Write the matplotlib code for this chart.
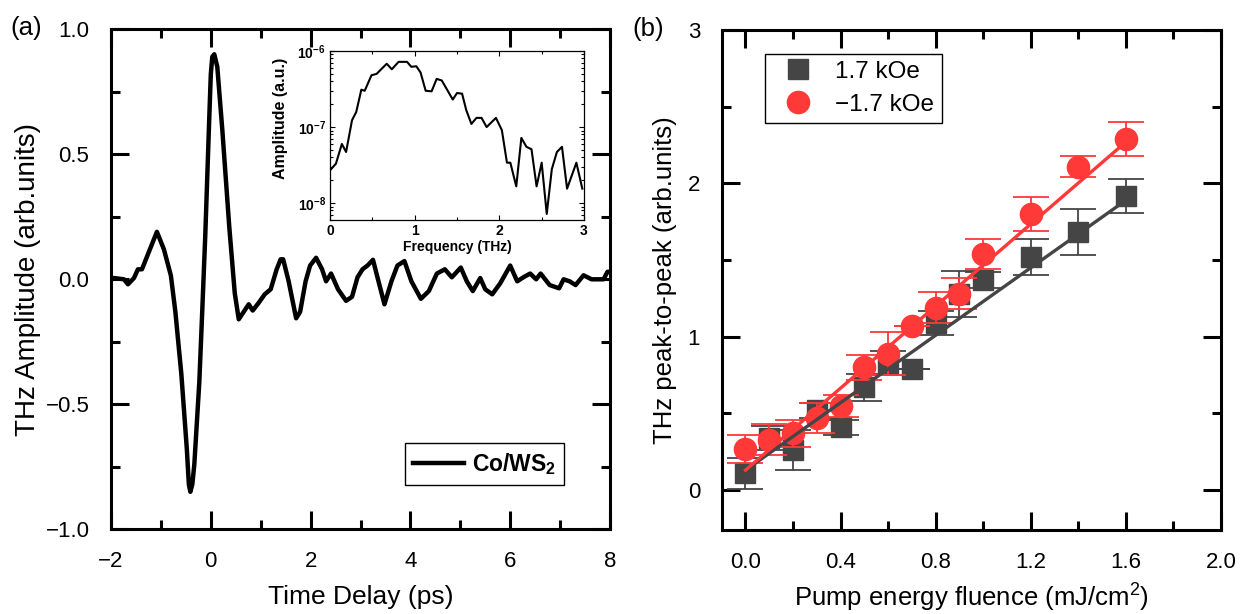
import numpy as np
import matplotlib
matplotlib.use("Agg")
import matplotlib.pyplot as plt
from matplotlib.ticker import MultipleLocator, LogLocator, FuncFormatter, NullFormatter

plt.rcParams['font.family'] = ['Liberation Sans', 'DejaVu Sans']
plt.rcParams['mathtext.fontset'] = 'custom'
plt.rcParams['mathtext.rm'] = 'Liberation Sans'
plt.rcParams['mathtext.bf'] = 'Liberation Sans:bold'
plt.rcParams['mathtext.default'] = 'regular'

# (a) THz waveform
delay_ps = [-2.0, -1.94, -1.74, -1.66, -1.54, -1.46, -1.38, -1.26, -1.08, -0.94, -0.80,
            -0.71, -0.59, -0.48, -0.44, -0.41, -0.37, -0.33, -0.23, -0.17, -0.11, -0.03,
            0.0, 0.03, 0.07, 0.13, 0.23,
            0.37, 0.48, 0.56, 0.66, 0.76, 0.84, 0.96, 1.08, 1.20, 1.32, 1.40, 1.45,
            1.56, 1.71, 1.79, 1.90, 1.99, 2.11, 2.23, 2.31, 2.41, 2.55, 2.71, 2.83,
            2.94, 3.04, 3.14, 3.25, 3.34, 3.48, 3.62, 3.74, 3.88, 4.02, 4.21, 4.37,
            4.53, 4.69, 4.83, 5.01, 5.13, 5.25, 5.40, 5.50, 5.64, 5.80, 6.00, 6.14,
            6.28, 6.40, 6.52, 6.61, 6.79, 6.98, 7.07, 7.19, 7.31, 7.47, 7.63, 7.87,
            7.95, 8.0]
thz_amp = [0.005, 0.005, 0.0, -0.02, 0.005, 0.04, 0.04, 0.10, 0.19, 0.12, 0.015,
           -0.13, -0.38, -0.68, -0.82, -0.85, -0.82, -0.74, -0.41, -0.12, 0.18, 0.65,
           0.82, 0.89, 0.90, 0.85, 0.60,
           0.21, -0.055, -0.16, -0.13, -0.10, -0.125, -0.094, -0.06, -0.04, 0.04, 0.08, 0.08,
           -0.008, -0.156, -0.13, -0.008, 0.055, 0.086, 0.04, -0.008, 0.023, -0.04, -0.086, -0.07,
           0.008, 0.04, 0.055, 0.078, 0.008, -0.10, -0.008, 0.055, 0.073, -0.008, -0.078, -0.047,
           0.023, 0.04, 0.008, 0.047, -0.008, -0.047, 0.005, -0.04, -0.06, -0.016, 0.055, -0.008,
           0.01, 0.023, 0.0, 0.023, -0.023, -0.036, 0.0, -0.008, -0.023, 0.016, 0.0, 0.0,
           0.03, 0.03]

# inset spectrum
freq_thz = [0.0, 0.07, 0.14, 0.19, 0.26, 0.31, 0.37, 0.41, 0.49, 0.55, 0.67, 0.73,
            0.81, 0.91, 0.96, 1.02, 1.07, 1.13, 1.20, 1.26, 1.32, 1.45, 1.50, 1.56,
            1.61, 1.67, 1.73, 1.79, 1.85, 1.96, 2.03, 2.09, 2.13, 2.20, 2.26, 2.32,
            2.38, 2.44, 2.50, 2.56, 2.62, 2.68, 2.74, 2.80, 2.91, 2.98]
spec_amp = [2.7e-8, 3.3e-8, 6.0e-8, 4.7e-8, 1.23e-7, 1.58e-7, 3.1e-7, 3.0e-7, 4.8e-7,
            5.0e-7, 6.8e-7, 5.75e-7, 7.2e-7, 7.2e-7, 6.2e-7, 6.3e-7, 5.2e-7, 3.0e-7,
            2.95e-7, 4.3e-7, 4.1e-7, 2.3e-7, 2.8e-7, 2.75e-7, 1.66e-7, 1.1e-7, 1.32e-7,
            1.32e-7, 1.0e-7, 1.32e-7, 9.1e-8, 3.4e-8, 3.4e-8, 1.66e-8, 7.2e-8, 5.5e-8,
            5.1e-8, 1.66e-8, 3.4e-8, 7.2e-9, 2.8e-8, 4.7e-8, 5.5e-8, 1.55e-8, 3.4e-8,
            1.55e-8]

# (b) fluence dependence
fluence = [0.0, 0.1, 0.2, 0.3, 0.4, 0.5, 0.6, 0.7, 0.8, 0.9, 1.0, 1.2, 1.4, 1.6]
pos_field = [0.11, 0.34, 0.26, 0.52, 0.41, 0.67, 0.83, 0.79, 1.09, 1.28, 1.37, 1.52, 1.68, 1.92]
pos_err = [0.10, 0.08, 0.13, 0.05, 0.05, 0.09, 0.08, 0.0, 0.08, 0.15, 0.05, 0.12, 0.15, 0.11]
neg_field = [0.27, 0.33, 0.37, 0.47, 0.55, 0.80, 0.89, 1.07, 1.19, 1.28, 1.54, 1.80, 2.11, 2.29]
neg_err = [0.09, 0.10, 0.09, 0.10, 0.07, 0.08, 0.14, 0.0, 0.10, 0.10, 0.10, 0.11, 0.07, 0.11]
fit_x = [0.0, 1.6]
pos_fit = [0.13, 1.89]
neg_fit = [0.13, 2.27]

gray = '#454545'
red = '#ff3838'
W, H = 1247, 614

fig = plt.figure(figsize=(W / 100, H / 100), dpi=100)
ax1 = fig.add_axes([111 / W, 1 - 529.3 / H, 499 / W, 500 / H])
ax2 = fig.add_axes([721.7 / W, 1 - 530 / H, 499.3 / W, 500 / H])
axin = fig.add_axes([330 / W, 1 - 220 / H, 254 / W, 169 / H])

for ax in (ax1, ax2):
    for s in ax.spines.values():
        s.set_linewidth(2.2)
    ax.tick_params(which='both', direction='in', top=True, right=True, width=2.2,
                   labelsize=16, pad=15.5)
    ax.tick_params(which='major', length=13)
    ax.tick_params(which='minor', length=6.5)

# panel (a)
ax1.plot(delay_ps, thz_amp, color='black', lw=3.2, solid_joinstyle='round',
         label=r'$\mathbf{Co/WS_2}$')
ax1.set_xlim(-2, 8)
ax1.set_ylim(-1, 1)
ax1.xaxis.set_major_locator(MultipleLocator(2))
ax1.xaxis.set_minor_locator(MultipleLocator(1))
ax1.yaxis.set_major_locator(MultipleLocator(0.5))
ax1.yaxis.set_minor_locator(MultipleLocator(0.25))
ax1.set_xlabel('Time Delay (ps)', fontsize=19)
ax1.set_ylabel('THz Amplitude (arb.units)', fontsize=20)
ax1.xaxis.set_label_coords(0.5, -0.135)
ax1.yaxis.set_label_coords(-0.166, 0.5)
ax1.xaxis.label.set_va('center')
ax1.yaxis.label.set_va('center')
leg1 = ax1.legend(loc='lower right', bbox_to_anchor=(0.908, 0.0886), fontsize=16.5,
                  handlelength=2.2, handletextpad=0.35, borderpad=0.35, borderaxespad=0,
                  fancybox=False, framealpha=1, edgecolor='black')
leg1.get_frame().set_linewidth(1.0)

# inset
axin.plot(freq_thz, spec_amp, color='black', lw=1.5)
axin.set_yscale('log')
axin.set_xlim(0, 3)
axin.set_ylim(6e-9, 1e-6)
axin.xaxis.set_major_locator(MultipleLocator(1))
axin.xaxis.set_minor_locator(MultipleLocator(0.5))
axin.yaxis.set_major_locator(LogLocator(base=10, numticks=5))
axin.yaxis.set_minor_locator(LogLocator(base=10, subs=np.arange(2, 10) * 0.1, numticks=10))
axin.yaxis.set_minor_formatter(NullFormatter())
axin.yaxis.set_major_formatter(FuncFormatter(
    lambda v, p: r'$\mathbf{10^{%d}}$' % round(np.log10(v))))
axin.tick_params(which='both', direction='in', top=True, right=True, width=0.8,
                 labelsize=10, pad=3)
axin.tick_params(which='major', length=3.5)
axin.tick_params(which='minor', length=2)
for lab in axin.get_xticklabels():
    lab.set_fontweight('bold')
for s in axin.spines.values():
    s.set_linewidth(0.9)
axin.set_xlabel('Frequency (THz)', fontsize=10, fontweight='bold')
axin.set_ylabel('Amplitude (a.u.)', fontsize=11.5, fontweight='bold')
axin.xaxis.set_label_coords(0.5, -0.158)
axin.yaxis.set_label_coords(-0.193, 0.6)
axin.xaxis.label.set_va('center')
axin.yaxis.label.set_va('center')

# panel (b)
ax2.errorbar(fluence, pos_field, yerr=pos_err, fmt='none', ecolor=gray,
             elinewidth=1.3, capsize=13, capthick=1.3, zorder=2)
sq, = ax2.plot(fluence, pos_field, ls='none', marker='s', ms=14, color=gray,
               mec=gray, label='1.7 kOe', zorder=3)
ax2.errorbar(fluence, neg_field, yerr=neg_err, fmt='none', ecolor=red,
             elinewidth=1.3, capsize=13, capthick=1.3, zorder=4)
ci, = ax2.plot(fluence, neg_field, ls='none', marker='o', ms=16, color=red,
               mec=red, label='\u22121.7 kOe', zorder=5)
ax2.plot(fit_x, pos_fit, color=gray, lw=2.4, zorder=6)
ax2.plot(fit_x, neg_fit, color=red, lw=2.4, zorder=7)
ax2.set_xlim(-0.1, 2.0)
ax2.set_ylim(-0.26, 3)
ax2.xaxis.set_major_locator(MultipleLocator(0.4))
ax2.xaxis.set_minor_locator(MultipleLocator(0.2))
ax2.yaxis.set_major_locator(MultipleLocator(1))
ax2.yaxis.set_minor_locator(MultipleLocator(0.5))
ax2.set_xlabel('Pump energy fluence (mJ/cm$^2$)', fontsize=18.5)
ax2.set_ylabel('THz peak-to-peak (arb.units)', fontsize=18.5)
ax2.xaxis.set_label_coords(0.5, -0.135)
ax2.yaxis.set_label_coords(-0.1136, 0.5)
ax2.xaxis.label.set_va('center')
ax2.yaxis.label.set_va('center')
leg2 = ax2.legend(handles=[sq, ci], loc='upper left', bbox_to_anchor=(0.0867, 0.953),
                  fontsize=17.5, handlelength=2.1, handletextpad=0.5, borderpad=0.3,
                  labelspacing=0.45, borderaxespad=0, fancybox=False, framealpha=1,
                  edgecolor='black')
leg2.get_frame().set_linewidth(1.0)

fig.text(26 / W, 1 - 28 / H, '(a)', fontsize=18.5, ha='center', va='center')
fig.text(648 / W, 1 - 29 / H, '(b)', fontsize=18.5, ha='center', va='center')

fig.savefig('out.png', dpi=100)
